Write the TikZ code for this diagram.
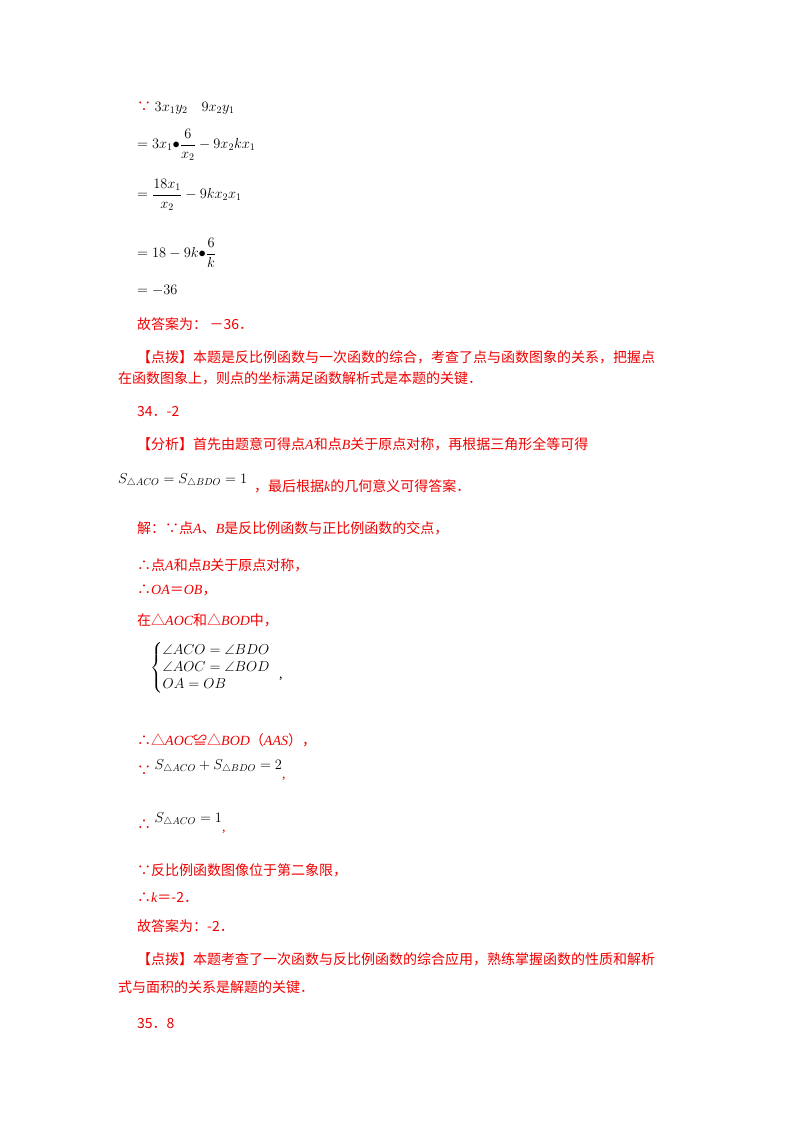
\documentclass[tikz,border=0pt]{standalone}
\usepackage{fontspec}
\usepackage{amsmath,amssymb}
\setmainfont{Liberation Serif}
\newfontfamily\cjk{Noto Sans CJK SC}
\newfontfamily\lsf{Liberation Serif}
\newcommand\mi[1]{{\lsf\itshape #1}}
\definecolor{rd}{HTML}{F00000}
\tikzset{ln/.style={anchor=west,inner sep=0pt,font=\fontsize{14}{17}\selectfont},r/.style={ln,text=rd}}
\begin{document}
\begin{tikzpicture}[x=1pt,y=-1pt]
\useasboundingbox (0,0) rectangle (800,1132);
\fill[white] (0,0) rectangle (800,1132);
\node[ln] (l1) at (137,108) {{\color{rd}\cjk ∵} $3x_1y_2\quad 9x_2y_1$};
\node[ln] (l2) at (137,145) {$=3x_1{\bullet}\dfrac{6}{x_2}-9x_2kx_1$};
\node[ln] (l3) at (137,195) {$=\dfrac{18x_1}{x_2}-9kx_2x_1$};
\node[ln] (l4) at (137,253) {$=18-9k{\bullet}\dfrac{6}{k}$};
\node[ln] (l5) at (137,290) {$=-36$};
\node[r] (l6) at (137,324) {\cjk 故答案为：\,－36．};
\node[r] (l7) at (137,357) {\cjk 【点拨】本题是反比例函数与一次函数的综合，考查了点与函数图象的关系，把握点};
\node[r] (l8) at (118,378) {\cjk 在函数图象上，则点的坐标满足函数解析式是本题的关键．};
\node[r] (l9) at (137,412) {\cjk 34．-2};
\node[r] (l10) at (137,444) {\cjk 【分析】首先由题意可得点\mi{A}和点\mi{B}关于原点对称，再根据三角形全等可得};
\node[ln] (l11) at (118,483) {$S_{\triangle ACO}=S_{\triangle BDO}=1$\ \ \textcolor{rd}{\raisebox{-1.2ex}{\cjk ，最后根据\mi{k}的几何意义可得答案．}}};
\node[r] (l12) at (137,528) {\cjk 解：∵点\mi{A}、\mi{B}是反比例函数与正比例函数的交点，};
\node[r] (l13) at (137,565) {\cjk ∴点\mi{A}和点\mi{B}关于原点对称，};
\node[r] (l14) at (137,590) {\cjk ∴\mi{OA}＝\mi{OB}，};
\node[r] (l15) at (137,620) {\cjk 在△\mi{AOC}和△\mi{BOD}中，};
\node[ln] (l16) at (150,668) {$\left\{\begin{array}{@{}l}\angle ACO=\angle BDO\\ \angle AOC=\angle BOD\\ OA=OB\end{array}\right.$\ \raisebox{-1ex}{,}};
\node[r] (l17) at (137,740) {\cjk ∴△\mi{AOC}≌△\mi{BOD}（\mi{AAS}），};
\node[ln] (l18) at (137,770) {\textcolor{rd}{\raisebox{-1ex}{\cjk ∵}} $S_{\triangle ACO}+S_{\triangle BDO}=2$\raisebox{-1.5ex}{\textcolor{rd}{,}}};
\node[ln] (l19) at (137,823) {\textcolor{rd}{\raisebox{-1.2ex}{\cjk ∴}} $S_{\triangle ACO}=1$\raisebox{-1.5ex}{\textcolor{rd}{,}}};
\node[r] (l20) at (137,870) {\cjk ∵反比例函数图像位于第二象限，};
\node[r] (l21) at (137,897) {\cjk ∴\mi{k}＝-2．};
\node[r] (l22) at (137,926) {\cjk 故答案为：-2．};
\node[r] (l23) at (137,959) {\cjk 【点拨】本题考查了一次函数与反比例函数的综合应用，熟练掌握函数的性质和解析};
\node[r] (l24) at (118,987) {\cjk 式与面积的关系是解题的关键．};
\node[r] (l25) at (137,1023) {\cjk 35．8};
\end{tikzpicture}
\end{document}
